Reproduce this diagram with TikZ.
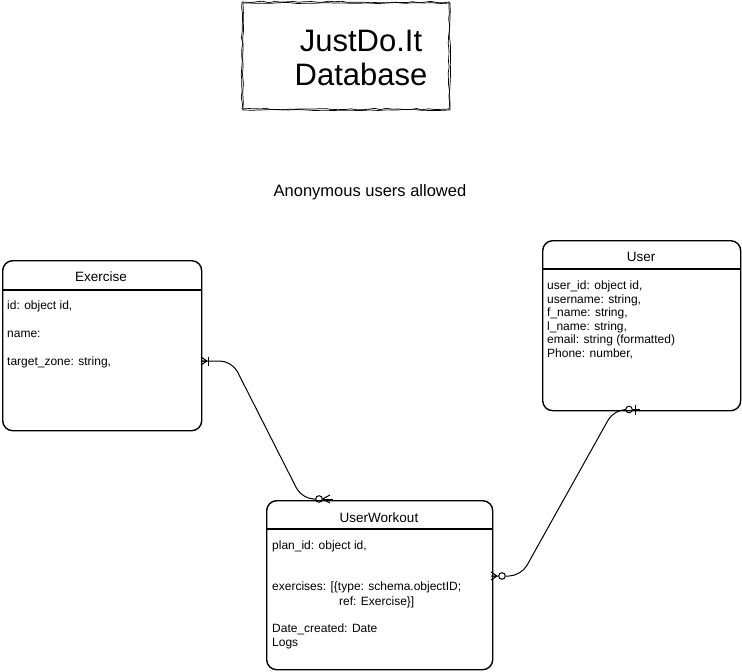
\documentclass[tikz,border=0pt]{standalone}
\usepackage{fontspec}
\setmainfont{Liberation Sans}
\usetikzlibrary{decorations.pathmorphing}
\begin{document}
\begin{tikzpicture}[x=1pt,y=-1pt,
  entity/.style={draw=black, line width=1.4pt, rounded corners=10pt, fill=white, anchor=north west, inner sep=0pt},
  sepline/.style={line width=1.4pt},
  attr/.style={anchor=base west, inner sep=0pt, font=\fontsize{12}{13.6}\selectfont},
  head/.style={anchor=base, inner sep=0pt, font=\fontsize{13.5}{15}\selectfont},
  conn/.style={line width=1pt, rounded corners=12pt},
  ermark/.style={line width=1pt},
  sketch/.style={draw=black, line width=0.7pt, decorate, decoration={random steps, segment length=6pt, amplitude=0.8pt}}
]
\useasboundingbox (0,0) rectangle (742,672);
\fill[white] (0,0) rectangle (742,672);

% title box
\node[draw=none, minimum width=207pt, minimum height=107pt, anchor=north west, inner sep=0pt] (title) at (242,2) {};
\draw[sketch] (242,2) rectangle (449,109);
\draw[sketch, decoration={random steps, segment length=9pt, amplitude=0.6pt}] (243,3) rectangle (450,110);
\node[align=center, inner sep=0pt, font=\fontsize{31}{34}\selectfont] (titletext) at (361,58) {JustDo.It\\Database};

\node[inner sep=0pt, font=\fontsize{16.5}{18}\selectfont] (anon) at (370,192) {Anonymous users allowed};

% Exercise
\node[entity, minimum width=199pt, minimum height=170pt] (ex) at (2,260) {};
\draw[sepline] (ex.west |- 0,290) -- (ex.east |- 0,290);
\node[head] (exh) at (101,281) {Exercise};
\node[attr] (ex1) at (7,309) {id: object id,};
\node[attr] (ex2) at (7,337) {name:};
\node[attr] (ex3) at (7,365) {target\_zone: string,};

% User
\node[entity, minimum width=198pt, minimum height=170pt] (us) at (542,240) {};
\draw[sepline] (us.west |- 0,269) -- (us.east |- 0,269);
\node[head] (ush) at (641,261) {User};
\node[attr] (us1) at (547,289.5) {user\_id: object id,};
\node[attr] (us2) at (547,303) {username: string,};
\node[attr] (us3) at (547,316.5) {f\_name: string,};
\node[attr] (us4) at (547,330) {l\_name: string,};
\node[attr] (us5) at (547,343.5) {email: string (formatted)};
\node[attr] (us6) at (547,357) {Phone: number,};

% UserWorkout
\node[entity, minimum width=226pt, minimum height=169pt] (uw) at (266,500) {};
\draw[sepline] (uw.west |- 0,529) -- (uw.east |- 0,529);
\node[head] (uwh) at (379,522) {UserWorkout};
\node[attr] (uw1) at (272,549) {plan\_id: object id,};
\node[attr] (uw2) at (272,590) {exercises: [\{type: schema.objectID;};
\node[attr] (uw3) at (339,605) {ref: Exercise\}]};
\node[attr] (uw4) at (272,632) {Date\_created: Date};
\node[attr] (uw5) at (272,646) {Logs};

% connector endpoints
\coordinate (exR) at (201,361);
\coordinate (uwT) at (333,499);
\coordinate (usB) at (640,409.5);
\coordinate (uwR) at (491,576);

% connector Exercise -> UserWorkout
\draw[conn] (exR) -- (232,361) -- (302,499) -- (315.5,499);
\draw[ermark] (322.5,499) -- (uwT);
% one-or-many at Exercise
\draw[ermark] (207,361) -- (201,357) (207,361) -- (201,365) (201,361) -- (207,361);
\draw[ermark] (208,356.5) -- (208,365.5);
% zero-or-many at UserWorkout top
\draw[ermark] (319,499) circle (3.3pt);
\draw[ermark] (322.5,499) -- (330,495) (322.5,499) -- (330,503);

% connector User -> UserWorkout
\draw[conn] (505.5,576) -- (521,576) -- (614,409.5) -- (625.5,409.5);
\draw[ermark] (632.5,409.5) -- (usB);
% zero-or-one at User
\draw[ermark] (629,409.5) circle (3.3pt);
\draw[ermark] (635.5,404.5) -- (635.5,414.5);
% zero-or-many at UserWorkout right
\draw[ermark] (502,576) circle (3.3pt);
\draw[ermark] (uwR) -- (498.5,576) (497,576) -- (491,572) (497,576) -- (491,580);
\end{tikzpicture}
\end{document}
